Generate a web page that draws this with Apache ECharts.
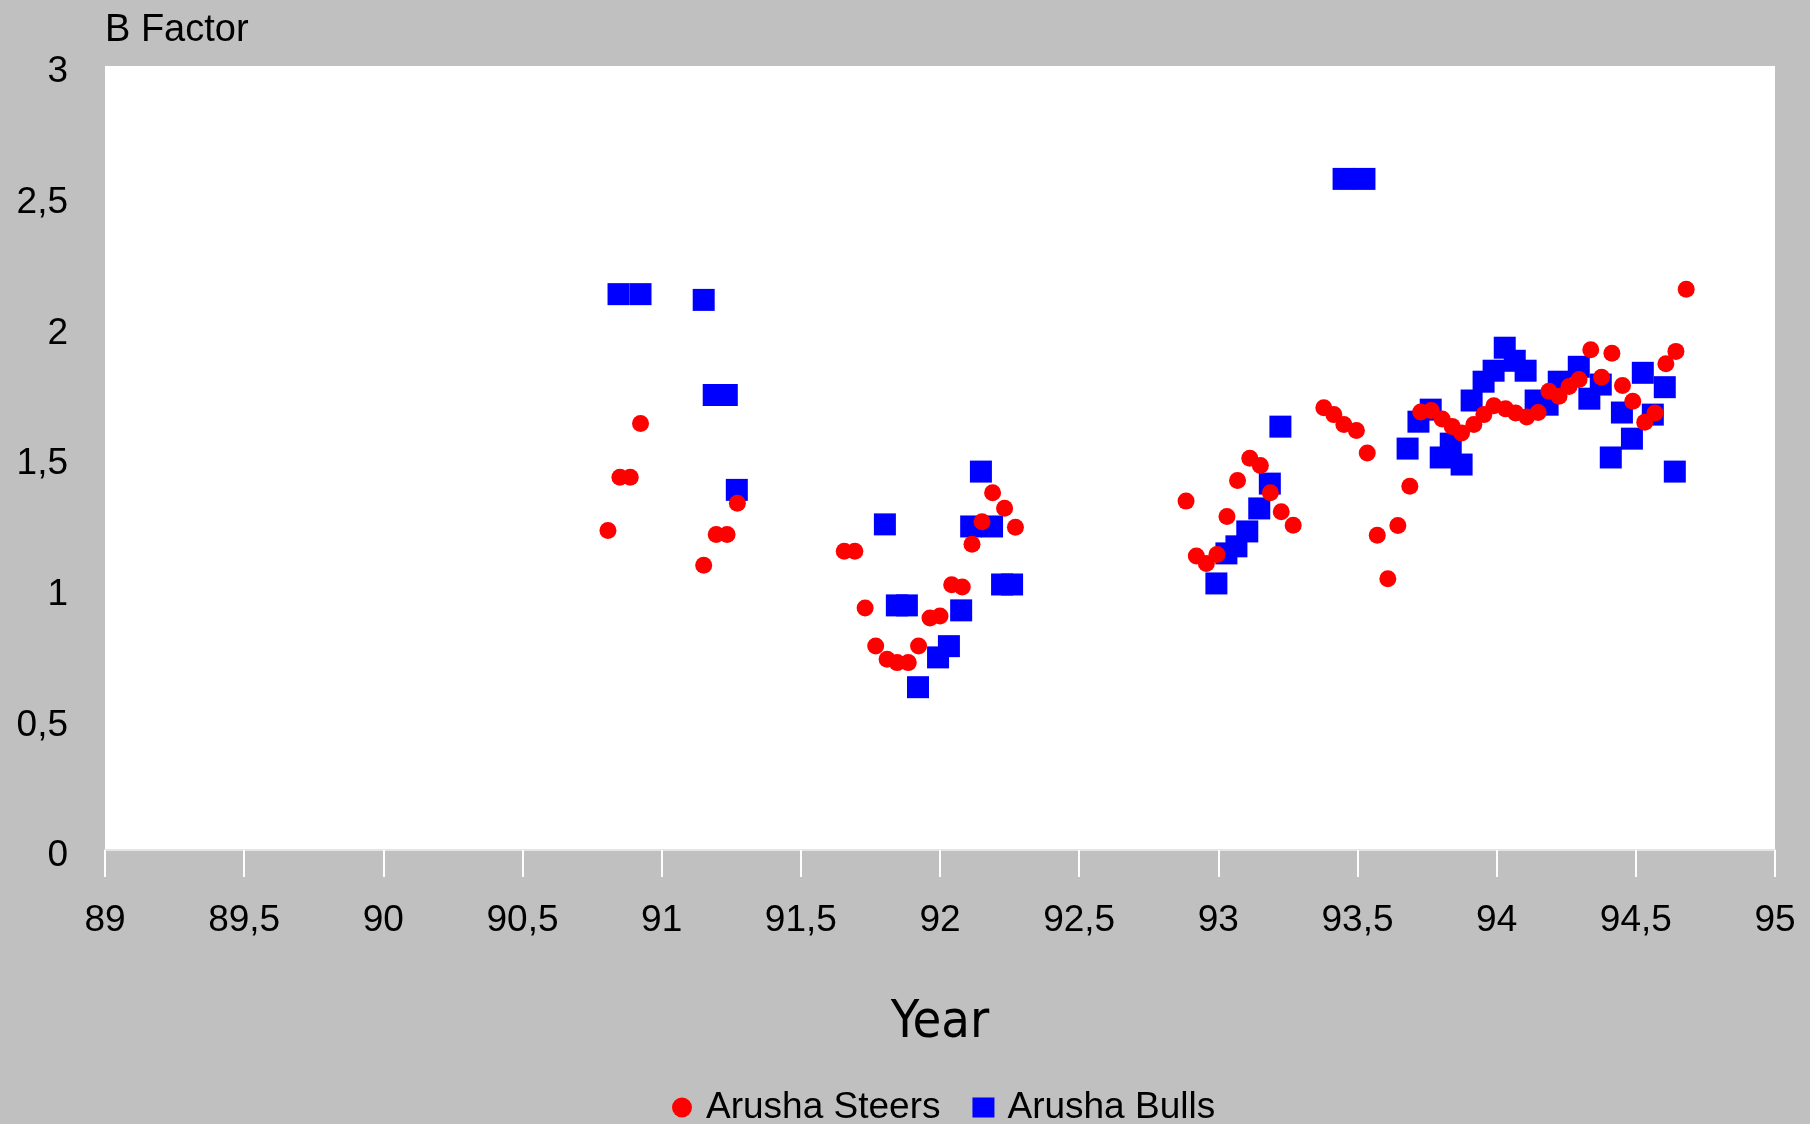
<!DOCTYPE html>
<html>
<head>
<meta charset="utf-8">
<style>
html,body{margin:0;padding:0;background:#c0c0c0;}
#chart{width:1810px;height:1124px;}
</style>
<script src="https://cdn.jsdelivr.net/npm/echarts@6/dist/echarts.min.js"></script>
</head>
<body>
<div id="chart"></div>
<script>
const seriesNames = ['Arusha Steers', 'Arusha Bulls'];
const yTickLabels = ['0', '0,5', '1', '1,5', '2', '2,5', '3'];
const xTickLabels = ['89', '89,5', '90', '90,5', '91', '91,5', '92', '92,5', '93', '93,5', '94', '94,5', '95'];

const steersX = [90.807, 90.850, 90.887, 90.924, 91.151, 91.196, 91.235, 91.272, 91.656, 91.694, 91.731, 91.769, 91.810, 91.846, 91.886, 91.923, 91.964, 92.000, 92.042, 92.080, 92.115, 92.151, 92.189, 92.232, 92.271, 92.884, 92.921, 92.957, 92.995, 93.031, 93.069, 93.113, 93.151, 93.187, 93.226, 93.269, 93.379, 93.415, 93.451, 93.496, 93.535, 93.571, 93.609, 93.645, 93.688, 93.727, 93.765, 93.804, 93.840, 93.874, 93.918, 93.954, 93.990, 94.032, 94.068, 94.108, 94.149, 94.188, 94.224, 94.260, 94.296, 94.338, 94.377, 94.414, 94.452, 94.489, 94.532, 94.569, 94.608, 94.644, 94.681];
const steersY = [1.223, 1.426, 1.426, 1.632, 1.090, 1.207, 1.207, 1.327, 1.143, 1.143, 0.926, 0.781, 0.730, 0.717, 0.717, 0.781, 0.888, 0.895, 1.015, 1.006, 1.170, 1.256, 1.367, 1.308, 1.235, 1.335, 1.125, 1.096, 1.131, 1.276, 1.414, 1.499, 1.471, 1.367, 1.294, 1.243, 1.692, 1.666, 1.628, 1.605, 1.519, 1.204, 1.038, 1.242, 1.392, 1.676, 1.682, 1.649, 1.621, 1.596, 1.628, 1.666, 1.700, 1.688, 1.672, 1.657, 1.674, 1.755, 1.736, 1.774, 1.800, 1.914, 1.809, 1.901, 1.777, 1.717, 1.637, 1.672, 1.861, 1.908, 2.146];

const bullsX = [90.845, 90.924, 91.151, 91.187, 91.234, 91.270, 91.802, 91.845, 91.881, 91.921, 91.993, 92.032, 92.076, 92.112, 92.147, 92.187, 92.223, 92.259, 92.993, 93.029, 93.065, 93.104, 93.147, 93.185, 93.223, 93.450, 93.525, 93.680, 93.719, 93.763, 93.799, 93.835, 93.874, 93.910, 93.953, 93.989, 94.029, 94.065, 94.104, 94.140, 94.183, 94.223, 94.295, 94.333, 94.374, 94.410, 94.450, 94.486, 94.525, 94.561, 94.604, 94.640];
const bullsY = [2.127, 2.127, 2.105, 1.741, 1.741, 1.378, 1.246, 0.936, 0.936, 0.623, 0.737, 0.780, 0.917, 1.238, 1.448, 1.238, 1.016, 1.016, 1.020, 1.135, 1.162, 1.219, 1.307, 1.402, 1.620, 2.568, 2.568, 1.536, 1.639, 1.685, 1.502, 1.555, 1.475, 1.720, 1.792, 1.834, 1.922, 1.872, 1.834, 1.720, 1.704, 1.792, 1.849, 1.727, 1.781, 1.502, 1.674, 1.574, 1.826, 1.666, 1.771, 1.448];

const FONT = "'Liberation Sans', Arial, Helvetica, sans-serif";
const pair = (xs, ys) => xs.map((x, i) => [x, ys[i]]);

const chart = echarts.init(document.getElementById('chart'), null, {renderer: 'canvas'});
chart.setOption({
  backgroundColor: '#c0c0c0',
  animation: false,
  title: {
    text: 'B Factor',
    left: 105,
    top: 12,
    padding: 0,
    textStyle: {fontFamily: FONT, fontSize: 38, fontWeight: 'normal', color: '#000'}
  },
  legend: {
    data: [{name: seriesNames[0], icon: 'circle'}, {name: seriesNames[1], icon: 'rect'}],
    left: 672,
    top: 1089,
    itemWidth: 22,
    itemHeight: 20,
    itemGap: 32,
    padding: 0,
    textStyle: {fontFamily: FONT, fontSize: 37, color: '#000', padding: [0, 0, 0, 8]}
  },
  grid: {
    left: 105,
    right: 35,
    top: 66,
    bottom: 274,
    show: true,
    backgroundColor: '#ffffff',
    borderWidth: 0
  },
  xAxis: {
    type: 'value',
    min: 89,
    max: 95,
    interval: 0.5,
    name: 'Year',
    nameLocation: 'middle',
    nameGap: 147,
    nameTextStyle: {fontFamily: "'Liberation Sans Narrow', 'DejaVu Sans Condensed', " + FONT, fontSize: 52, color: '#000'},
    axisLine: {show: true, lineStyle: {color: '#e4e4e4', width: 2}},
    axisTick: {show: true, length: 27, lineStyle: {color: '#ffffff', width: 2}},
    splitLine: {show: false},
    axisLabel: {
      margin: 52,
      fontFamily: FONT,
      fontSize: 37,
      color: '#000',
      formatter: (v) => xTickLabels[Math.round((v - 89) / 0.5)]
    }
  },
  yAxis: {
    type: 'value',
    min: 0,
    max: 3,
    interval: 0.5,
    axisLine: {show: false},
    axisTick: {show: false},
    splitLine: {show: false},
    axisLabel: {
      margin: 37,
      color: '#000',
      formatter: (v) => '{t|' + yTickLabels[Math.round(v / 0.5)] + '}',
      rich: {
        t: {fontFamily: FONT, fontSize: 37, color: '#000', padding: [12, 0, 0, 0]}
      }
    }
  },
  series: [
    {
      name: seriesNames[1],
      type: 'scatter',
      symbol: 'rect',
      symbolSize: 22,
      itemStyle: {color: '#0000ff', opacity: 1},
      data: pair(bullsX, bullsY),
      z: 2
    },
    {
      name: seriesNames[0],
      type: 'scatter',
      symbol: 'circle',
      symbolSize: 17,
      itemStyle: {color: '#ff0000', opacity: 1},
      data: pair(steersX, steersY),
      z: 3
    }
  ]
});
</script>
</body>
</html>
